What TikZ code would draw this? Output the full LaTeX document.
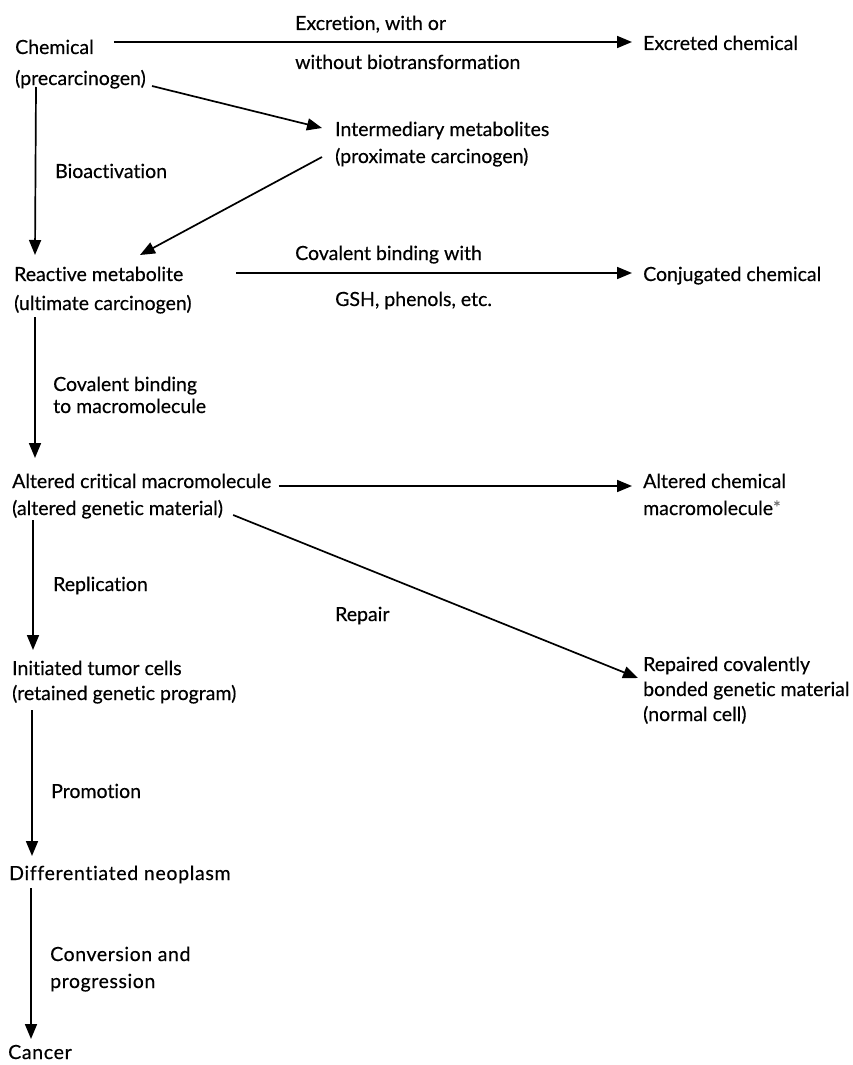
\documentclass[tikz,border=0pt]{standalone}
\usepackage{fontspec}
\setmainfont{Lato}[Ligatures=NoCommon,FakeBold=0.4]
\usetikzlibrary{arrows.meta}
\begin{document}
\begin{tikzpicture}[x=1pt,y=-1pt,
  txt/.style={anchor=west,inner sep=0pt,text height=18pt,text depth=2pt,font=\fontsize{19.5}{23}\selectfont},
  arr/.style={line width=1.7pt,-{Triangle[length=15pt,width=12pt]}}]
\useasboundingbox (0,0) rectangle (852,1065);
% main nodes
\node[txt] (chemA) at (15,46) {Chemical};
\node[txt] (chemB) at (15,77) {(precarcinogen)};
\node[txt] (exc) at (643,42) {Excreted chemical};
\node[txt] (interA) at (335,128) {Intermediary metabolites};
\node[txt] (interB) at (335,155) {(proximate carcinogen)};
\node[txt] (reactA) at (14,273) {Reactive metabolite};
\node[txt] (reactB) at (14,302) {(ultimate carcinogen)};
\node[txt] (conj) at (643,273) {Conjugated chemical};
\node[txt] (altA) at (12,480) {Altered critical macromolecule};
\node[txt] (altB) at (12,507) {(altered genetic material)};
\node[txt] (acmA) at (643,480) {Altered chemical};
\node[txt] (acmB) at (643,507) {macromolecule\raisebox{1pt}{\fontsize{18}{18}\selectfont\color{black!55}*}};
\node[txt] (initA) at (12,667) {Initiated tumor cells};
\node[txt] (initB) at (12,692) {(retained genetic program)};
\node[txt] (repA) at (643,663) {Repaired covalently};
\node[txt] (repB) at (643,688) {bonded genetic material};
\node[txt] (repC) at (643,713) {(normal cell)};
\node[txt] (diff) at (9,872) {\addfontfeature{LetterSpace=3.5}Differentiated neoplasm};
\node[txt] (cancer) at (8,1051) {\addfontfeature{LetterSpace=3.5}Cancer};
% labels
\node[txt] (lExA) at (295,22) {Excretion, with or};
\node[txt] (lExB) at (295,61) {without biotransformation};
\node[txt] (lBio) at (55,170) {Bioactivation};
\node[txt] (lCovA) at (295,252) {Covalent binding with};
\node[txt] (lCovB) at (335,298) {GSH, phenols, etc.};
\node[txt] (lMacA) at (53,383) {Covalent binding};
\node[txt] (lMacB) at (53,405) {to macromolecule};
\node[txt] (lRep) at (53,583) {Replication};
\node[txt] (lRepair) at (335,613) {Repair};
\node[txt] (lProm) at (51,790) {Promotion};
\node[txt] (lConvA) at (50,953) {\addfontfeature{LetterSpace=3}Conversion and};
\node[txt] (lConvB) at (50,980) {\addfontfeature{LetterSpace=3}progression};
% connectors
\draw[arr] ([xshift=20pt]chemA.east |- exc.west) -- ([xshift=-11pt]exc.west);
\draw[arr] ([shift={(6pt,-9pt)}]chemB.east) -- ([xshift=-13pt]interA.west);
\draw[arr] ([shift={(-13pt,-2pt)}]interB.west) -- ([shift={(126pt,18pt)}]reactA.west);
\draw[arr] ([shift={(21pt,-10pt)}]chemB.west) -- ([shift={(21pt,18pt)}]reactA.west);
\draw[arr] ([xshift=53pt]reactA.east |- conj.west) -- ([xshift=-11pt]conj.west);
\draw[arr] ([shift={(21pt,-15pt)}]reactB.west) -- ([shift={(23pt,22pt)}]altA.west);
\draw[arr] ([shift={(7pt,-6pt)}]altA.east) -- ([shift={(-11pt,-6pt)}]acmA.west);
\draw[arr] ([shift={(10pt,-8pt)}]altB.east) -- ([shift={(-5pt,-15pt)}]repA.west);
\draw[arr] ([shift={(21pt,-13pt)}]altB.west) -- ([shift={(21pt,17pt)}]initA.west);
\draw[arr] ([shift={(20pt,-18pt)}]initB.west) -- ([shift={(23pt,16pt)}]diff.west);
\draw[arr] ([shift={(22pt,-16pt)}]diff.west) -- ([shift={(23pt,12pt)}]cancer.west);
\end{tikzpicture}
\end{document}
